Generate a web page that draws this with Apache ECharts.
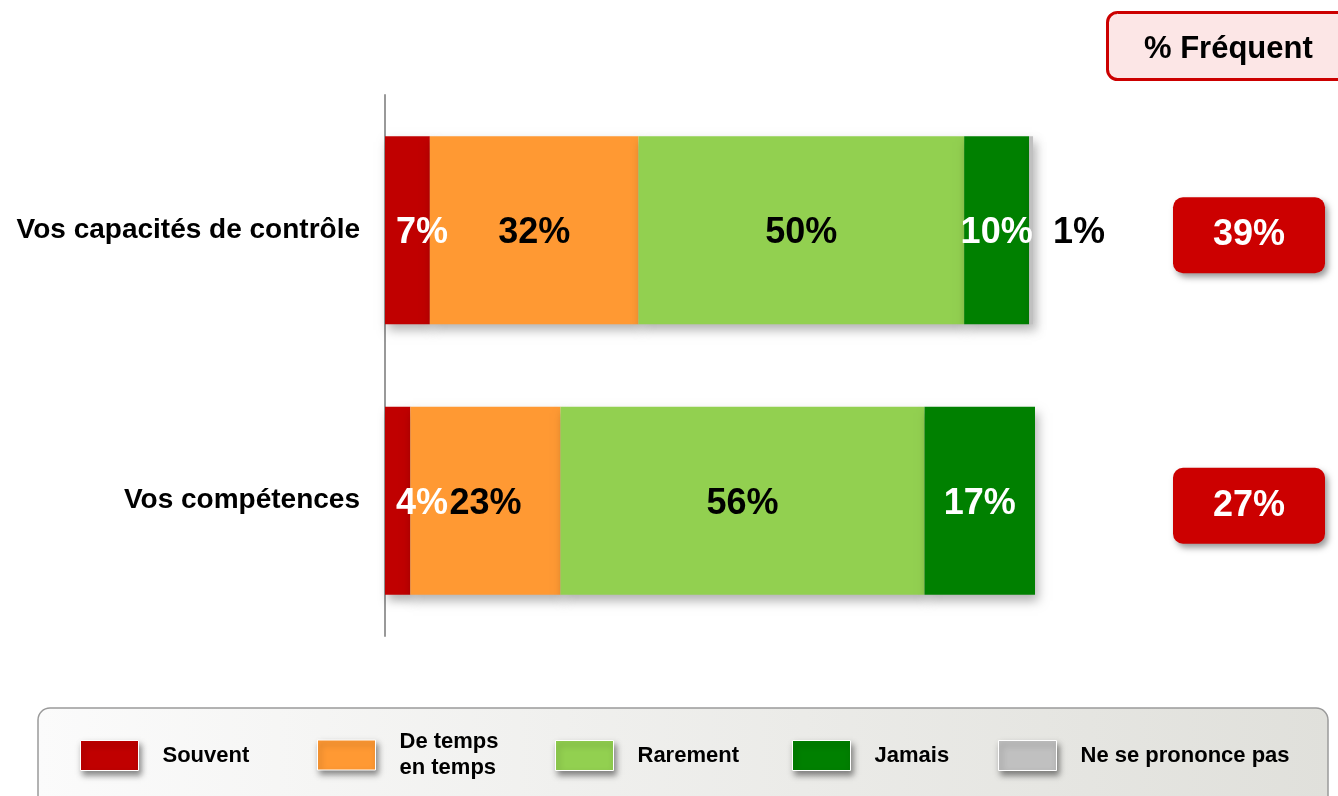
<!DOCTYPE html>
<html>
<head>
<meta charset="utf-8">
<script src="https://cdn.jsdelivr.net/npm/echarts@6/dist/echarts.min.js"></script>
<style>
html,body{margin:0;padding:0;background:#fff;}
#chart{width:1338px;height:796px;}
</style>
</head>
<body>
<div id="chart"></div>
<script>
var categories = ['Vos capacités de contrôle', 'Vos compétences'];
var seriesNames = ['Souvent', 'De temps en temps', 'Rarement', 'Jamais', 'Ne se prononce pas'];
var souvent = [6.9, 3.9];
var deTemps = [32.1, 23.1];
var rarement = [50.1, 56.0];
var jamais = [10.0, 17.0];
var nspp = [0.6, 0];
var frequent = [39, 27];
var frequentTitle = '% Fréquent';

var colors = ['#C00000', '#FF9933', '#92D050', '#008000', '#C0C0C0'];
var labelColors = ['#fff', '#000', '#000', '#fff', '#000'];
var values = [souvent, deTemps, rarement, jamais, nspp];
var FONT = 'Liberation Sans, Arial, sans-serif';

var series = seriesNames.map(function (name, i) {
  var label = {
    show: true,
    color: labelColors[i],
    fontFamily: FONT,
    fontWeight: 'bold',
    fontSize: 36,
    position: 'inside',
    offset: [0, 3],
    formatter: function (p) { return p.value > 0 ? Math.round(p.value) + '%' : ''; }
  };
  if (i === 0) { label.position = 'insideLeft'; label.distance = 11; }
  if (i === 4) { label.position = 'right'; label.distance = 20; }
  return {
    name: name,
    type: 'bar',
    stack: 'total',
    barWidth: 188,
    data: values[i],
    itemStyle: {
      color: colors[i],
      shadowColor: 'rgba(0,0,0,0.3)',
      shadowBlur: 10,
      shadowOffsetX: 3,
      shadowOffsetY: 6
    },
    label: label,
    emphasis: { disabled: true }
  };
});

var legendLefts = [80, 317, 555, 792, 998];
var legendTops = [740, 729, 740, 740, 740];
var legends = seriesNames.map(function (name, i) {
  return {
    data: [name],
    left: legendLefts[i],
    top: legendTops[i],
    padding: 0,
    itemWidth: 58,
    itemHeight: 30,
    icon: 'rect',
    selectedMode: false,
    itemStyle: {
      borderColor: '#ffffff',
      borderWidth: 1,
      shadowColor: 'rgba(0,0,0,0.45)',
      shadowBlur: 6,
      shadowOffsetX: 2,
      shadowOffsetY: 4
    },
    textStyle: {
      fontFamily: FONT,
      fontWeight: 'bold',
      fontSize: 22,
      color: '#000',
      lineHeight: 26,
      padding: [0, 0, 0, 19]
    },
    formatter: function (n) { return n === 'De temps en temps' ? 'De temps\nen temps' : n; }
  };
});

var chart = echarts.init(document.getElementById('chart'));
chart.setOption({
  animation: false,
  title: {
    text: frequentTitle,
    left: 1107,
    top: 12,
    padding: [20, 80, 14, 37],
    backgroundColor: '#FCE6E6',
    borderColor: '#CC0000',
    borderWidth: 3,
    borderRadius: 10,
    textStyle: { fontFamily: FONT, fontWeight: 'bold', fontSize: 31, color: '#000', lineHeight: 34 }
  },
  graphic: [{
    type: 'rect',
    z: -10,
    shape: { x: 38, y: 708, width: 1290, height: 110, r: 12 },
    style: {
      fill: new echarts.graphic.LinearGradient(0, 0, 1, 0, [
        { offset: 0, color: '#FBFBFB' },
        { offset: 1, color: '#E0E0DB' }
      ]),
      stroke: '#9A9A9A',
      lineWidth: 1.5
    },
    silent: true
  }],
  legend: legends,
  grid: { left: 385, width: 650, top: 95, height: 541 },
  xAxis: {
    type: 'value', min: 0, max: 100, show: false
  },
  yAxis: [{
    type: 'category',
    data: categories,
    inverse: true,
    axisLine: { show: true, lineStyle: { color: '#999', width: 2 } },
    axisTick: { show: false },
    axisLabel: { margin: 25, padding: [4, 0, 0, 0], fontFamily: FONT, fontWeight: 'bold', fontSize: 28, color: '#000' }
  }, {
    type: 'category',
    data: categories,
    inverse: true,
    position: 'right',
    axisLine: { show: false },
    axisTick: { show: false },
    axisLabel: {
      margin: 214,
      align: 'center',
      padding: [10, 0, 0, 0],
      formatter: function (v, idx) { return '{b|' + frequent[idx] + '%}'; },
      rich: {
        b: {
          width: 152,
          height: 76,
          lineHeight: 76,
          align: 'center',
          backgroundColor: '#CC0000',
          borderRadius: 10,
          shadowColor: 'rgba(0,0,0,0.4)',
          shadowBlur: 6,
          shadowOffsetX: 3,
          shadowOffsetY: 4,
          color: '#fff',
          fontFamily: FONT,
          fontWeight: 'bold',
          fontSize: 36
        }
      }
    }
  }],
  series: series
});
</script>
</body>
</html>
